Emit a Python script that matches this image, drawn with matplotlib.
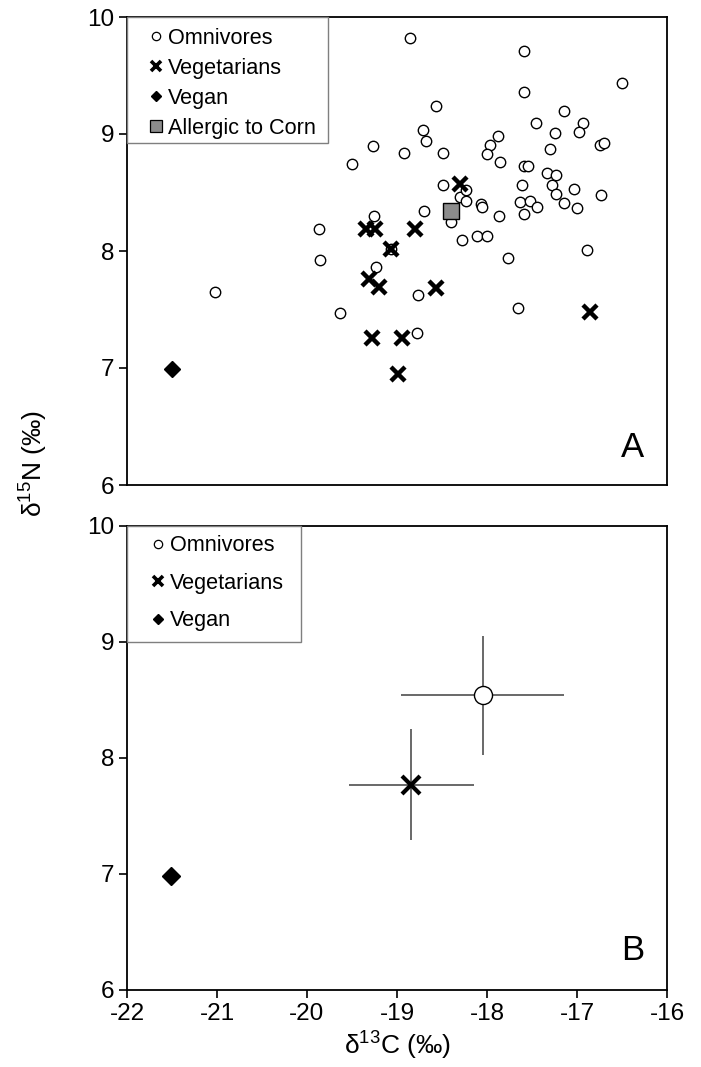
import matplotlib
matplotlib.use('Agg')
import matplotlib.pyplot as plt
from matplotlib.lines import Line2D
from matplotlib.patches import Rectangle

plt.rcParams['font.family'] = ['Liberation Sans', 'DejaVu Sans']
plt.rcParams['mathtext.fontset'] = 'custom'
plt.rcParams['mathtext.rm'] = 'Liberation Sans'
plt.rcParams['mathtext.it'] = 'Liberation Sans:italic'
plt.rcParams['axes.unicode_minus'] = False

# ---- panel A: individual values (d13C, d15N) ----
omni_c = [-21.02, -19.87, -19.86, -19.63, -19.26, -19.07, -19.23, -18.77, -18.78, -18.70,
          -18.49, -18.30, -18.23, -18.23, -18.40, -18.28, -18.11, -18.00, -18.07, -18.06,
          -17.87, -17.77, -17.66, -17.61, -17.63, -17.52, -17.44, -17.59, -17.28, -17.23,
          -17.14, -17.03, -17.00, -16.73, -16.89, -18.85, -18.57, -18.71, -18.68, -19.27,
          -18.92, -18.49, -19.50, -17.59, -17.59, -16.50, -17.14, -17.46, -17.24, -16.93,
          -16.98, -16.75, -16.70, -17.30, -17.88, -17.97, -18.00, -17.86, -17.59, -17.55,
          -17.33, -17.23]
omni_n = [7.65, 8.19, 7.92, 7.47, 8.30, 8.02, 7.86, 7.62, 7.30, 8.34,
          8.56, 8.46, 8.52, 8.43, 8.25, 8.09, 8.13, 8.13, 8.40, 8.38,
          8.30, 7.94, 7.51, 8.56, 8.42, 8.43, 8.38, 8.32, 8.56, 8.49,
          8.41, 8.53, 8.37, 8.48, 8.01, 9.82, 9.24, 9.03, 8.94, 8.90,
          8.84, 8.84, 8.74, 9.71, 9.36, 9.44, 9.20, 9.09, 9.01, 9.09,
          9.02, 8.91, 8.92, 8.87, 8.98, 8.91, 8.83, 8.76, 8.73, 8.73,
          8.67, 8.65]

veg_c = [-19.34, -19.25, -19.07, -19.31, -19.20, -19.28, -18.94, -18.99, -18.80, -18.57, -18.30, -16.86]
veg_n = [8.19, 8.19, 8.02, 7.76, 7.69, 7.26, 7.26, 6.95, 8.19, 7.68, 8.57, 7.48]

vegan_c = [-21.50]
vegan_n = [6.99]

corn_c = [-18.40]
corn_n = [8.34]

# ---- panel B: group means with SD ----
mean_labels = ['Omnivores', 'Vegetarians', 'Vegan']
mean_c = [-18.05, -18.84, -21.51]
mean_n = [8.54, 7.77, 6.98]
sd_c = [0.91, 0.69, 0.0]
sd_n = [0.51, 0.48, 0.0]

x_ticks = [-22, -21, -20, -19, -18, -17, -16]
y_ticks = [6, 7, 8, 9, 10]

W, H = 701, 1067
fig = plt.figure(figsize=(W / 100, H / 100), dpi=100)
axA = fig.add_axes([127 / W, 1 - 485 / H, 540 / W, 468 / H])
axB = fig.add_axes([127 / W, 1 - 990 / H, 540 / W, 464 / H])

FS = 15.6    # legend text
TFS = 17.5   # tick labels
LFS = 19     # axis titles


def style_axes(ax, show_x):
    ax.set_xlim(-22, -16)
    ax.set_ylim(6, 10)
    ax.set_xticks(x_ticks)
    ax.set_yticks(y_ticks)
    ax.tick_params(direction='out', length=6, width=1.2, labelsize=TFS, pad=3)
    if not show_x:
        ax.tick_params(axis='x', bottom=False, labelbottom=False)
    for sp in ax.spines.values():
        sp.set_linewidth(1.3)
        sp.set_color('black')


# panel A
axA.plot(omni_c, omni_n, 'o', ms=7.5, mfc='white', mec='black', mew=1.0, zorder=3)
axA.plot(veg_c, veg_n, 'x', ms=10, mec='black', mew=3.2, zorder=4)
axA.plot(vegan_c, vegan_n, 'D', ms=8.5, mfc='black', mec='black', zorder=4)
axA.plot(corn_c, corn_n, 's', ms=12, mfc='#8c8c8c', mec='black', mew=1.0, zorder=5)
style_axes(axA, False)
axA.text(0.937, 0.045, 'A', transform=axA.transAxes, fontsize=25, ha='center', va='bottom')

handlesA = [
    Line2D([], [], ls='none', marker='o', ms=6, mfc='white', mec='black', mew=0.9),
    Line2D([], [], ls='none', marker='x', ms=7, mec='black', mew=2.6),
    Line2D([], [], ls='none', marker='D', ms=5, mfc='black', mec='black'),
    Line2D([], [], ls='none', marker='s', ms=9, mfc='#8c8c8c', mec='black', mew=0.9),
]
labelsA = ['Omnivores', 'Vegetarians', 'Vegan', 'Allergic to Corn']
axA.legend(handlesA, labelsA, loc='upper left', bbox_to_anchor=(0.041, 0.977),
           frameon=False, fontsize=FS, handlelength=0.6, handletextpad=0.25,
           labelspacing=0.42, borderpad=0.0, borderaxespad=0.0)
axA.add_patch(Rectangle((0, 0.73), 0.372, 0.27, transform=axA.transAxes,
                        fill=False, ec='#7f7f7f', lw=1.0, zorder=6, clip_on=False))

# panel B
axB.errorbar(mean_c[0], mean_n[0], xerr=sd_c[0], yerr=sd_n[0], fmt='o', ms=13,
             mfc='white', mec='black', mew=1.0, ecolor='#404040', elinewidth=1.1,
             capsize=0, zorder=3)
axB.errorbar(mean_c[1], mean_n[1], xerr=sd_c[1], yerr=sd_n[1], fmt='x', ms=13,
             mec='black', mew=3.0, ecolor='#404040', elinewidth=1.1, capsize=0, zorder=3)
axB.plot(mean_c[2], mean_n[2], 'D', ms=9, mfc='black', mec='black', zorder=4)
style_axes(axB, True)
axB.text(0.937, 0.049, 'B', transform=axB.transAxes, fontsize=25, ha='center', va='bottom')

handlesB = [
    Line2D([], [], ls='none', marker='o', ms=6, mfc='white', mec='black', mew=0.9),
    Line2D([], [], ls='none', marker='x', ms=7, mec='black', mew=2.6),
    Line2D([], [], ls='none', marker='D', ms=5, mfc='black', mec='black'),
]
axB.legend(handlesB, mean_labels, loc='upper left', bbox_to_anchor=(0.046, 0.98),
           frameon=False, fontsize=FS, handlelength=0.6, handletextpad=0.25,
           labelspacing=0.76, borderpad=0.0, borderaxespad=0.0)
axB.add_patch(Rectangle((0, 0.75), 0.322, 0.25, transform=axB.transAxes,
                        fill=False, ec='#7f7f7f', lw=1.0, zorder=6, clip_on=False))

axB.set_xlabel('δ$^{13}$C (‰)', fontsize=LFS, labelpad=4)
fig.text(0.048, 0.566, 'δ$^{15}$N (‰)', rotation=90, fontsize=LFS, ha='center', va='center')

fig.savefig('out.png', dpi=100)
